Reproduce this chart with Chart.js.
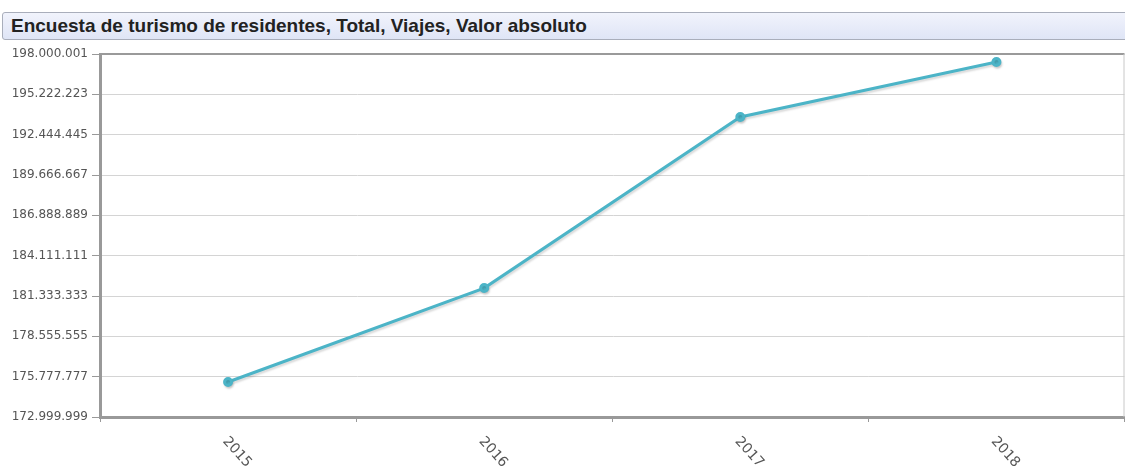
<!DOCTYPE html>
<html>
<head>
<meta charset="utf-8">
<script src="https://cdn.jsdelivr.net/npm/chart.js@4.4.1/dist/chart.umd.min.js"></script>
<style>
  body { margin: 0; background: #fff; width: 1125px; height: 467px; overflow: hidden; position: relative; }
  #title {
    position: absolute; left: 2px; top: 12px; width: 1130px; height: 28px;
    box-sizing: border-box; border: 1px solid #a9aebb; border-radius: 3px;
    background: linear-gradient(#f1f3fc, #dfe5f6);
    font: bold 19px "Liberation Sans", Arial, sans-serif; color: #222;
    padding: 2px 0 0 8px; white-space: nowrap;
  }
  #wrap { position: absolute; left: 0; top: 42px; width: 1131px; height: 425px; }
</style>
</head>
<body>
<div id="title">Encuesta de turismo de residentes, Total, Viajes, Valor absoluto</div>
<div id="wrap"><canvas id="chart"></canvas></div>
<script>
const years = ["2015", "2016", "2017", "2018"];
const trips = [175410000, 181880000, 193660000, 197450000];
const yTicks = [172999999, 175777777, 178555555, 181333333, 184111111,
                186888889, 189666667, 192444445, 195222223, 198000001];

function fmt(v) {
    return String(Math.round(v)).replace(/\B(?=(\d{3})+(?!\d))/g, ".");
}

// frame on top/right + rotated year labels
const framePlugin = {
    id: "frame",
    beforeDatasetsDraw(chart) {
        chart.ctx.save();
        chart.ctx.shadowColor = "rgba(0,0,0,0.15)";
        chart.ctx.shadowOffsetX = 1;
        chart.ctx.shadowOffsetY = 2;
        chart.ctx.shadowBlur = 2;
    },
    afterDatasetsDraw(chart) {
        chart.ctx.restore();
    },
    afterDraw(chart) {
        const ctx = chart.ctx;
        const a = chart.chartArea;
        ctx.save();
        ctx.strokeStyle = "#9a9a9a";
        ctx.lineWidth = 2;
        ctx.beginPath();
        ctx.moveTo(a.left, a.top);
        ctx.lineTo(a.right, a.top);
        ctx.stroke();
        ctx.strokeStyle = "#c8c8c8";
        ctx.lineWidth = 1;
        ctx.beginPath();
        ctx.moveTo(a.right - 0.5, a.top);
        ctx.lineTo(a.right - 0.5, a.bottom);
        ctx.stroke();

        const xs = chart.scales.x;
        ctx.font = "14px 'DejaVu Sans', Verdana, sans-serif";
        ctx.fillStyle = "#555";
        ctx.textAlign = "left";
        ctx.textBaseline = "middle";
        years.forEach((y, i) => {
            const px = xs.getPixelForTick(i);
            ctx.save();
            ctx.translate(px - 3, a.bottom + 22);
            ctx.rotate(Math.PI * 48 / 180);
            ctx.fillText(y, 0, 0);
            ctx.restore();
        });
        ctx.restore();
    }
};

new Chart(document.getElementById("chart"), {
    type: "line",
    data: {
        labels: years,
        datasets: [{
            data: trips,
            borderColor: "#4cb4c7",
            backgroundColor: "#4cb4c7",
            borderWidth: 3,
            pointRadius: 3.5,
            pointHoverRadius: 3.5,
            tension: 0
        }]
    },
    options: {
        responsive: true,
        maintainAspectRatio: false,
        animation: false,
        layout: { padding: { top: 12, right: 0, left: 0, bottom: 0 } },
        plugins: {
            legend: { display: false },
            tooltip: { enabled: false }
        },
        scales: {
            x: {
                offset: true,
                ticks: { display: false },
                grid: { drawOnChartArea: false, offset: true, tickLength: 5, color: "#999" },
                border: { color: "#999", width: 3 },
                afterFit(scale) { scale.height = 50; }
            },
            y: {
                min: yTicks[0],
                max: yTicks[yTicks.length - 1],
                afterBuildTicks(scale) {
                    scale.ticks = yTicks.map(v => ({ value: v }));
                },
                ticks: {
                    callback: v => fmt(v),
                    color: "#555",
                    padding: 4,
                    font: { family: "'DejaVu Sans', Verdana, sans-serif", size: 12 }
                },
                grid: { color: "#d4d4d4", tickLength: 8, tickColor: "#999" },
                border: { color: "#999", width: 3 },
                afterFit(scale) { scale.width = 100; }
            }
        }
    },
    plugins: [framePlugin]
});
</script>
</body>
</html>
